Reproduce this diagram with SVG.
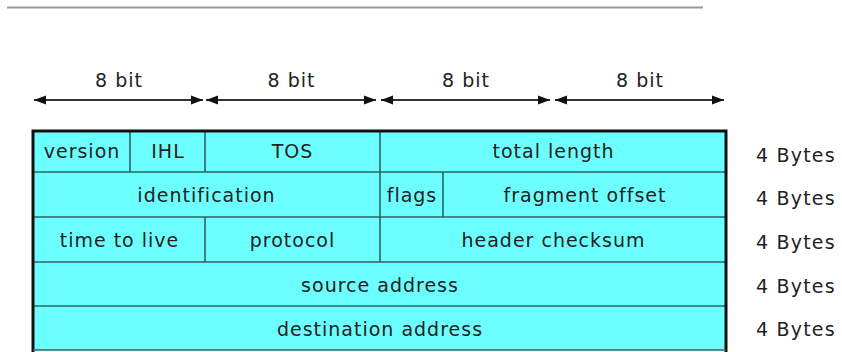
<svg xmlns="http://www.w3.org/2000/svg" width="842" height="352" viewBox="0 0 842 352">
  <style>
    .lbl { font-family: "DejaVu Sans", Verdana, sans-serif; font-size: 19px; letter-spacing: 1px; fill: #222; text-anchor: middle; }
    .side { font-family: "DejaVu Sans", Verdana, sans-serif; font-size: 19px; letter-spacing: 1.2px; fill: #222; text-anchor: start; }
    .cell { fill: #6cffff; stroke: none; }
    .div { stroke: #2b6464; stroke-width: 1.6; fill: none; }
    .span { stroke: #333; stroke-width: 1.8; fill: none; marker-start: url(#headL); marker-end: url(#headR); }
  </style>
  <defs>
    <marker id="headR" markerUnits="userSpaceOnUse" markerWidth="14" markerHeight="12" refX="12" refY="5" orient="auto">
      <path d="M0,0.5 L12,5 L0,9.5 Z" fill="#111"/>
    </marker>
    <marker id="headL" markerUnits="userSpaceOnUse" markerWidth="14" markerHeight="12" refX="0" refY="5" orient="auto">
      <path d="M12,0.5 L0,5 L12,9.5 Z" fill="#111"/>
    </marker>
  </defs>

  <!-- top rule -->
  <line x1="7" y1="7.5" x2="703" y2="7.5" stroke="#999" stroke-width="2.2"/>

  <!-- bit-width captions -->
  <g id="bit-labels">
    <text class="lbl" x="119" y="87">8 bit</text>
    <text class="lbl" x="291.5" y="87">8 bit</text>
    <text class="lbl" x="466" y="87">8 bit</text>
    <text class="lbl" x="640" y="87">8 bit</text>
  </g>

  <!-- octet span arrows -->
  <g id="connectors">
    <line class="span" x1="34" y1="100" x2="203" y2="100"/>
    <line class="span" x1="206" y1="100" x2="376" y2="100"/>
    <line class="span" x1="381" y1="100" x2="550" y2="100"/>
    <line class="span" x1="555" y1="100" x2="724" y2="100"/>
  </g>

  <!-- header table background -->
  <rect class="cell" x="33" y="131" width="693" height="219"/>

  <!-- row 1 -->
  <g id="version">
    <text class="lbl" x="82" y="158">version</text>
  </g>
  <g id="ihl">
    <line class="div" x1="130" y1="131" x2="130" y2="172"/>
    <text class="lbl" x="168" y="158">IHL</text>
  </g>
  <g id="tos">
    <line class="div" x1="205" y1="131" x2="205" y2="172"/>
    <text class="lbl" x="292.5" y="158">TOS</text>
  </g>
  <g id="total-length">
    <line class="div" x1="380" y1="131" x2="380" y2="172"/>
    <text class="lbl" x="553.5" y="158">total length</text>
  </g>

  <!-- row 2 -->
  <g id="identification">
    <line class="div" x1="33" y1="172" x2="726" y2="172"/>
    <text class="lbl" x="206.5" y="202">identification</text>
  </g>
  <g id="flags">
    <line class="div" x1="380" y1="172" x2="380" y2="217"/>
    <text class="lbl" x="412" y="202">flags</text>
  </g>
  <g id="fragment-offset">
    <line class="div" x1="443" y1="172" x2="443" y2="217"/>
    <text class="lbl" x="585" y="202">fragment offset</text>
  </g>

  <!-- row 3 -->
  <g id="time-to-live">
    <line class="div" x1="33" y1="217" x2="726" y2="217"/>
    <text class="lbl" x="119.5" y="247">time to live</text>
  </g>
  <g id="protocol">
    <line class="div" x1="205" y1="217" x2="205" y2="262"/>
    <text class="lbl" x="292.5" y="247">protocol</text>
  </g>
  <g id="header-checksum">
    <line class="div" x1="380" y1="217" x2="380" y2="262"/>
    <text class="lbl" x="553.5" y="247">header checksum</text>
  </g>

  <!-- row 4 -->
  <g id="source-address">
    <line class="div" x1="33" y1="262" x2="726" y2="262"/>
    <text class="lbl" x="380" y="292">source address</text>
  </g>

  <!-- row 5 -->
  <g id="destination-address">
    <line class="div" x1="33" y1="306" x2="726" y2="306"/>
    <text class="lbl" x="380" y="336">destination address</text>
  </g>

  <!-- outer frame -->
  <path d="M33,352 L33,131 L726,131 L726,352" fill="none" stroke="#111" stroke-width="3"/>
  <line x1="33" y1="350" x2="726" y2="350" stroke="#2b6464" stroke-width="1.6"/>

  <!-- row sizes -->
  <g id="row-sizes">
    <text class="side" x="756" y="162">4 Bytes</text>
    <text class="side" x="756" y="205">4 Bytes</text>
    <text class="side" x="756" y="249">4 Bytes</text>
    <text class="side" x="756" y="293">4 Bytes</text>
    <text class="side" x="756" y="336">4 Bytes</text>
  </g>
</svg>
